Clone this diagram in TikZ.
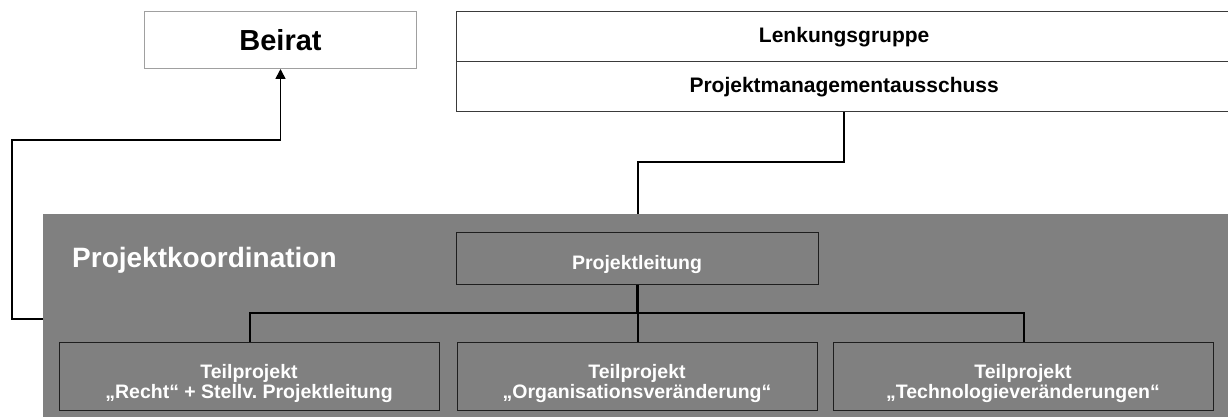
\documentclass[tikz,border=0pt]{standalone}
\usepackage{fontspec}
\setmainfont{Liberation Sans}
\usetikzlibrary{arrows.meta}
\definecolor{pkgray}{HTML}{808080}
\definecolor{frame}{HTML}{3A3A3A}
\definecolor{lightframe}{HTML}{A0A0A0}
\definecolor{inframe}{HTML}{1E1E1E}
\frenchspacing
\begin{document}
\begin{tikzpicture}[x=1pt,y=-1pt,
  topbox/.style={draw=frame, line width=1.3pt, anchor=north west, inner sep=0pt, minimum width=775, minimum height=50, font=\bfseries\fontsize{21}{24}\selectfont},
  graybox/.style={draw=inframe, line width=1.3pt, fill=pkgray, anchor=north west, inner sep=0pt},
  wtext/.style={text=white, font=\bfseries\fontsize{19.5}{20}\selectfont, align=center, inner sep=0pt},
  conn/.style={draw=black, line width=1.7pt}]
\useasboundingbox (0,0) rectangle (1228,417);
% Beirat
\node[draw=lightframe, line width=1pt, anchor=north west, inner sep=0pt, minimum width=272, minimum height=57, font=\bfseries\fontsize{29}{34}\selectfont] (beirat) at (144,11) {Beirat};
% Lenkungsgruppe / Projektmanagementausschuss
\node[topbox] (lg) at (456,11) {Lenkungsgruppe};
\node[topbox] (pm) at (456,61) {Projektmanagementausschuss};
% Projektkoordination area
\node[fill=pkgray, anchor=north west, inner sep=0pt, minimum width=1195, minimum height=210] (pk) at (43,214) {};
\node[anchor=base west, text=white, inner sep=0pt, font=\bfseries\fontsize{28}{32}\selectfont] (pktext) at (72,267) {Projektkoordination};
% Projektleitung
\node[graybox, minimum width=362, minimum height=52] (pl) at (456,232) {};
\node[wtext, anchor=base] (pltext) at (637,269) {Projektleitung};
% Teilprojekte
\node[graybox, minimum width=380, minimum height=68] (tp1) at (59,342) {};
\node[graybox, minimum width=360, minimum height=68] (tp2) at (457,342) {};
\node[graybox, minimum width=380, minimum height=68] (tp3) at (833,342) {};
\node[wtext] (tp1text) at (249,383) {Teilprojekt\\„Recht“ + Stellv. Projektleitung};
\node[wtext] (tp2text) at (637,383) {Teilprojekt\\„Organisationsveränderung“};
\node[wtext] (tp3text) at (1023,383) {Teilprojekt\\„Technologieveränderungen“};
% connectors
\coordinate (pkw) at (pk.west |- 0,319);
\coordinate (ptop) at (pk.north -| pl.north);
\draw[conn, -{Triangle[width=10pt,length=10pt]}] (pkw) -- (12,319) -- (12,140) -| (beirat.south);
\draw[conn] (pm.south) -- (pm.south |- 0,162) -| (ptop);
\coordinate (hb) at (pl.south |- 0,313);
\draw[conn, line width=2.6pt] (pl.south) -- (hb);
\draw[conn] (tp1.north) -- (tp1.north |- hb) -- (tp3.north |- hb) -- (tp3.north);
\draw[conn] (hb) -- (tp2.north);
\end{tikzpicture}
\end{document}
